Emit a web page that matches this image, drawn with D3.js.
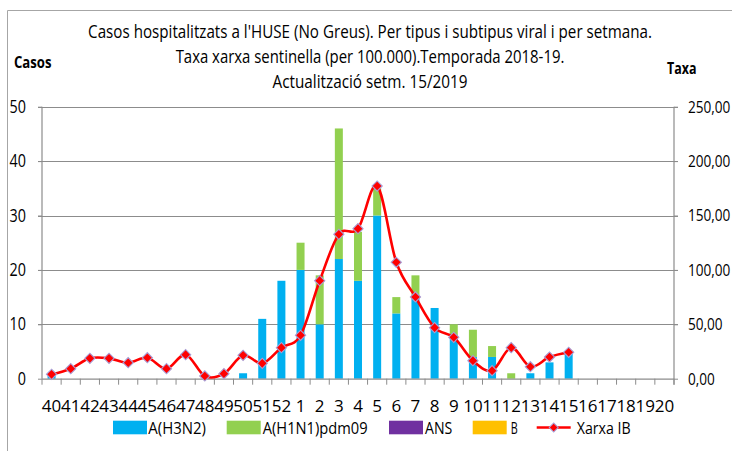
<!DOCTYPE html>
<html>
<head>
<meta charset="utf-8">
<script src="https://cdn.jsdelivr.net/npm/d3@7/dist/d3.min.js"></script>
<style>
html,body{margin:0;padding:0;background:#fff;}
svg{display:block;}
</style>
</head>
<body>
<svg id="chart" width="732" height="451"></svg>
<script>
// ---------- DATA ----------
const weeks = ["40","41","42","43","44","45","46","47","48","49","50","51","52",
  "1","2","3","4","5","6","7","8","9","10","11","12","13","14","15","16","17","18","19","20"];
const h3n2 = [1,0,0,0,0,0,0,0,0,0,1,11,18, 20,10,22,18,30,12,15,13,8,4,4,0,1,3,5,0,0,0,0,0];
const h1n1 = [0,0,0,0,0,0,0,0,0,0,0,0,0, 5,9,24,9,5,3,4,0,2,5,2,1,0,0,0,0,0,0,0,0];
const ans  = [0,0,0,0,0,0,0,0,0,0,0,0,0, 0,0,0,0,0,0,0,0,0,0,0,0,0,0,0,0,0,0,0,0];
const fluB = [0,0,0,0,0,0,0,0,0,0,0,0,0, 0,0,0,0,0,0,0,0,0,0,0,0,0,0,0,0,0,0,0,0];
const taxa = [4.0,9.2,18.7,18.7,14.7,19.3,9.2,22.1,2.5,4.6,21.5,14.1,28.5,
  39.9,90.1,132.7,137.9,177.1,107.0,75.1,46.9,38.0,16.6,7.4,28.5,11.0,19.9,24.3];
const leftTicks = [0,10,20,30,40,50];
const rightTicks = [0,50,100,150,200,250];
const seriesNames = ["A(H3N2)","A(H1N1)pdm09","ANS","B"];
const lineName = "Xarxa IB";
const titleLines = ["Casos hospitalitzats a l'HUSE (No Greus). Per tipus i subtipus  viral i per setmana.",
  "Taxa xarxa sentinella (per 100.000).Temporada 2018-19.",
  "Actualització setm. 15/2019"];

// ---------- SETUP ----------
const FONT = '"Open Sans", "Liberation Sans", sans-serif';
const svg = d3.select("#chart").style("font-family", FONT);
const colors = ["#00B0F0","#92D050","#7030A0","#FFC000"];
const gridColor = "#8c8c8c";

const x = d3.scaleBand().domain(weeks).range([42,674]).padding(0);
const yL = d3.scaleLinear().domain([0,50]).range([378.7,106.7]);
const yR = d3.scaleLinear().domain([0,250]).range([378.7,106.7]);
const locale = d3.formatLocale({decimal:",", thousands:".", grouping:[3], currency:["","€"]});
const fmtR = locale.format(".2f");

// text fitted to a target width by horizontal scaling (anchor: start|middle)
function fitText(parent, str, xPos, yPos, width, size, anchor, bold){
  const t = parent.append("text").attr("x",0).attr("y",0).attr("font-size",size)
    .attr("text-anchor",anchor||"start").attr("fill","#000").text(str);
  if(bold) t.attr("font-weight","bold");
  const w = t.node().getComputedTextLength();
  const k = width / w;
  t.attr("transform","translate("+xPos+","+yPos+") scale("+k+",1)");
  return t;
}

// frame
svg.append("path").attr("d","M7.5,451 V10.5 H732").attr("fill","none").attr("stroke","#a6a6a6").attr("stroke-width",1);

// gridlines
svg.append("g").selectAll("line").data(leftTicks.filter(d=>d>0)).join("line")
  .attr("x1",38).attr("x2",678).attr("y1",d=>Math.round(yL(d))+0.5).attr("y2",d=>Math.round(yL(d))+0.5)
  .attr("stroke",gridColor).attr("stroke-width",1.2);

// stacked bars
const rows = weeks.map((w,i)=>({week:w, s0:h3n2[i], s1:h1n1[i], s2:ans[i], s3:fluB[i]}));
const stack = d3.stack().keys(["s0","s1","s2","s3"])(rows);
const barW = 8;
svg.append("g").selectAll("g").data(stack).join("g").attr("fill",(d,i)=>colors[i])
  .selectAll("rect").data(d=>d.filter(p=>p[1]-p[0]>0)).join("rect")
  .attr("x",d=>x(d.data.week)+(x.bandwidth()-barW)/2)
  .attr("width",barW)
  .attr("y",d=>yL(d[1]))
  .attr("height",d=>yL(d[0])-yL(d[1]));

// left axis
const sL = 0.82, sR = 0.8;
const gL = svg.append("g").attr("transform","translate(42,0)")
  .call(d3.axisLeft(yL).tickValues(leftTicks).tickSize(4).tickPadding(12).tickFormat(d3.format("d")));
gL.select(".domain").attr("stroke",gridColor).attr("stroke-width",1.2).attr("d","M0,"+yL(50)+"V"+yL(0));
gL.selectAll(".tick line").attr("stroke",gridColor);
gL.selectAll("text").attr("font-size",17.5).attr("font-family",FONT).attr("fill","#000")
  .attr("x",-16/sL).attr("transform","scale("+sL+",1)");

// right axis
const gR = svg.append("g").attr("transform","translate(674,0)")
  .call(d3.axisRight(yR).tickValues(rightTicks).tickSize(4).tickPadding(10).tickFormat(fmtR));
gR.select(".domain").attr("stroke",gridColor).attr("stroke-width",1.2).attr("d","M0,"+yR(250)+"V"+(yR(0)+6));
gR.selectAll(".tick line").attr("stroke",gridColor);
gR.selectAll("text").attr("font-size",17).attr("font-family",FONT).attr("fill","#000")
  .attr("x",14/sR).attr("transform","scale("+sR+",1)");

// bottom axis
const gB = svg.append("g").attr("transform","translate(0,"+yL(0)+")")
  .call(d3.axisBottom(x).tickSize(0).tickPadding(21));
gB.select(".domain").remove();
gB.selectAll("text").attr("font-size",17).attr("font-family",FONT).attr("fill","#000");
const bounds = weeks.map(w=>x(w)).concat([x.range()[1]]);
gB.append("line").attr("x1",x.range()[0]).attr("x2",x.range()[1]).attr("y1",0.5).attr("y2",0.5)
  .attr("stroke",gridColor).attr("stroke-width",1.2);
gB.selectAll(".btick").data(bounds).join("line").attr("class","btick")
  .attr("x1",d=>d).attr("x2",d=>d).attr("y1",0).attr("y2",6).attr("stroke",gridColor).attr("stroke-width",1);

// rate line
const pts = taxa.map((v,i)=>[x(weeks[i])+x.bandwidth()/2, yR(v)]);
svg.append("path").attr("d", d3.line().curve(d3.curveCatmullRom.alpha(0))(pts))
  .attr("fill","none").attr("stroke","#FF0000").attr("stroke-width",2.6);
const diamond = d3.symbol(d3.symbolSquare, 52)();
svg.append("g").selectAll("path").data(pts).join("path")
  .attr("d",diamond)
  .attr("transform",d=>"translate("+d[0]+","+d[1]+") rotate(45)")
  .attr("fill","#FF0000").attr("stroke","#a99fd6").attr("stroke-width",1.1);

// titles
const tw = [564, 389, 195];
const tyy = [38, 63, 88];
const gT = svg.append("g");
titleLines.forEach((t,i)=> fitText(gT, t, 370, tyy[i], tw[i], 17.5, "middle"));
fitText(gT, "Casos", 14, 68, 37.5, 16, "start", true);
fitText(gT, "Taxa", 667, 74, 29.5, 16, "start", true);

// legend
const legSw = [113, 226.7, 389, 472.7];
const legTx = [148.3, 262.7, 425, 510.7];
const legTw = [57.7, 105, 27.3, 7];
const lg = svg.append("g");
seriesNames.forEach((n,i)=>{
  lg.append("rect").attr("x",legSw[i]).attr("y",420.7).attr("width",34).attr("height",13.6).attr("fill",colors[i]);
  fitText(lg, n, legTx[i], 433.5, legTw[i], 17, "start");
});
lg.append("line").attr("x1",536.7).attr("x2",570.7).attr("y1",427.5).attr("y2",427.5)
  .attr("stroke","#FF0000").attr("stroke-width",2.6);
lg.append("path").attr("d",d3.symbol(d3.symbolSquare,40)())
  .attr("transform","translate(553.7,427.5) rotate(45)")
  .attr("fill","#FF0000").attr("stroke","#a99fd6").attr("stroke-width",1);
fitText(lg, lineName, 576.7, 433.5, 54, 17, "start");
</script>
</body>
</html>
